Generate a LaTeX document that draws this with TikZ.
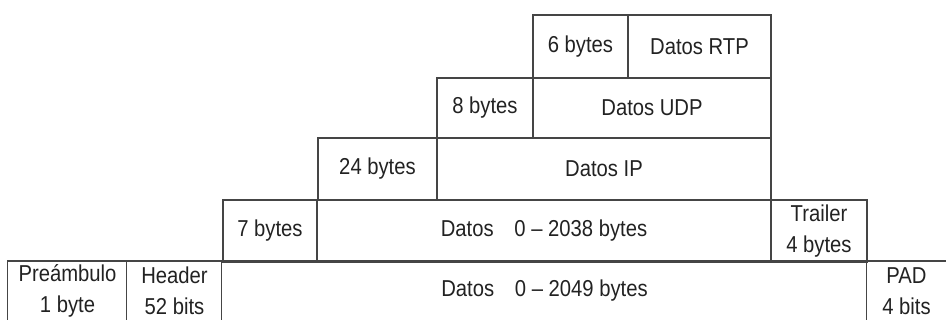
\documentclass[tikz,border=0pt]{standalone}
\usepackage{fontspec}
\setmainfont[FakeStretch=0.88]{Liberation Sans}
\definecolor{linec}{HTML}{454545}
\definecolor{textc}{HTML}{222222}
\begin{document}
\begin{tikzpicture}[x=1pt,y=-1pt,
  cell/.style={draw=linec, line width=1.5pt, rectangle, inner sep=0pt, text=textc,
    align=center, font=\fontsize{23}{31}\selectfont},
  opencell/.style={cell, draw=none},
  edge/.style={draw=linec, line width=1.5pt}]
\useasboundingbox (0,0) rectangle (946,320);
% row 1
\node[cell, minimum width=95pt, minimum height=63pt] (r1a) at (580.5,46.5) {6 bytes};
\node[cell, minimum width=143pt, minimum height=63pt] (r1b) at (699.5,46.5) {Datos RTP};
% row 2
\node[cell, minimum width=96pt, minimum height=60pt] (r2a) at (485,108) {8 bytes};
\node[cell, minimum width=238pt, minimum height=60pt] (r2b) at (652,108) {Datos UDP};
% row 3
\node[cell, minimum width=119pt, minimum height=62pt] (r3a) at (377.5,169) {24 bytes};
\node[cell, minimum width=334pt, minimum height=62pt] (r3b) at (604,169) {Datos IP};
% row 4
\node[cell, minimum width=94pt, minimum height=62pt] (r4a) at (270,231) {7 bytes};
\node[cell, minimum width=454pt, minimum height=62pt] (r4b) at (544,231) {Datos\hspace{0.9em}0 – 2038 bytes};
\node[cell, minimum width=96pt, minimum height=62pt] (r4c) at (819,231) {Trailer\\4 bytes};
% row 5
\node[opencell, minimum width=119pt, minimum height=58pt] (r5a) at (67.5,291) {Preámbulo\\1 byte};
\node[opencell, minimum width=95pt, minimum height=58pt] (r5b) at (174.5,291) {Header\\52 bits};
\node[opencell, minimum width=645pt, minimum height=58pt] (r5c) at (544.5,291) {Datos\hspace{0.9em}0 – 2049 bytes};
\node[opencell, minimum width=79pt, minimum height=58pt] (r5d) at (906.5,291) {PAD\\4 bits};
\draw[edge] (r5a.south west) -- (r5a.north west) -- (r5d.north east);
\draw[edge] (r5b.north west) -- (r5b.south west);
\draw[edge] (r5c.north west) -- (r5c.south west);
\draw[edge] (r5d.north west) -- (r5d.south west);
\end{tikzpicture}
\end{document}
